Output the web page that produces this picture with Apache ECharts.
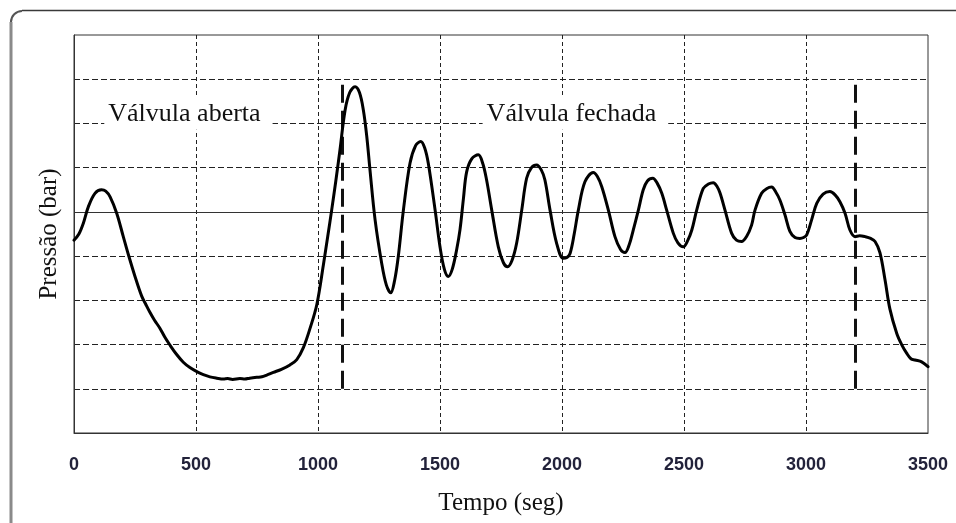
<!DOCTYPE html>
<html>
<head>
<meta charset="utf-8">
<script src="https://cdn.jsdelivr.net/npm/echarts@6.0.0/dist/echarts.min.js"></script>
<style>
html,body{margin:0;padding:0;background:#fff;}
#chart{width:956px;height:523px;}
</style>
</head>
<body>
<div id="chart"></div>
<script>
// ---- data ----
const time = [0,20,38,59,86,113,130,148,175,202,223,250,277,295,311,330,352,372,393,420,448,475,509,530,557,585,612,630,650,680,700,720,749,770,790,817,850,885,913,940,967,995,1022,1040,1056,1073,1090,1111,1130,1152,1170,1186,1200,1213,1234,1261,1280,1298,1314,1329,1350,1377,1400,1421,1437,1452,1480,1500,1518,1534,1550,1568,1582,1596,1609,1630,1657,1675,1691,1712,1739,1760,1777,1795,1814,1835,1855,1875,1896,1915,1930,1951,1978,2005,2020,2033,2050,2067,2094,2128,2145,2163,2190,2217,2240,2258,2275,2292,2313,2333,2350,2372,2390,2409,2429,2456,2475,2497,2515,2532,2552,2579,2600,2620,2635,2648,2668,2695,2715,2736,2757,2777,2791,2818,2840,2859,2876,2893,2914,2934,2955,2975,2990,3003,3023,3044,3070,3098,3120,3139,3160,3180,3201,3220,3242,3265,3283,3303,3324,3344,3372,3392,3413,3430,3447,3474,3500];
const pressure = [4.36,4.5,4.74,5.12,5.42,5.50,5.47,5.34,4.97,4.44,4.03,3.54,3.10,2.90,2.73,2.55,2.37,2.17,1.99,1.78,1.60,1.48,1.37,1.32,1.27,1.24,1.22,1.23,1.21,1.23,1.22,1.24,1.26,1.27,1.31,1.37,1.44,1.54,1.66,1.93,2.36,2.90,3.80,4.45,5.04,5.7,6.4,7.3,7.7,7.83,7.7,7.30,6.7,5.95,4.82,3.84,3.35,3.17,3.45,3.99,5.04,6.1,6.5,6.59,6.45,6.1,5.04,4.21,3.7,3.54,3.7,4.14,4.6,5.3,5.9,6.2,6.29,6.1,5.72,5.04,4.21,3.85,3.76,3.9,4.29,5.04,5.76,6.0,6.06,5.95,5.72,5.04,4.29,3.95,3.97,4.06,4.5,5.04,5.68,5.89,5.8,5.57,5.04,4.44,4.15,4.08,4.25,4.59,5.04,5.5,5.7,5.76,5.65,5.42,5.04,4.52,4.3,4.21,4.35,4.59,5.04,5.53,5.63,5.66,5.58,5.42,5.04,4.52,4.36,4.33,4.45,4.70,5.04,5.42,5.53,5.56,5.45,5.27,4.93,4.56,4.42,4.40,4.42,4.48,4.82,5.19,5.40,5.46,5.38,5.23,4.97,4.59,4.44,4.46,4.44,4.40,4.33,4.08,3.46,2.80,2.25,2.0,1.80,1.68,1.65,1.61,1.50];

const xTicks = [0,500,1000,1500,2000,2500,3000,3500];
const valveTimes = [1100, 3200];
const valveSpan = [1, 8];
const referenceLevel = 5;
const annotationLabels = ['Válvula aberta', 'Válvula fechada'];
const annotationTimes = [469, 2055];
const annotationLevels = [7.22, 7.22];

const xName = 'Tempo (seg)';
const yName = 'Pressão (bar)';

// ---- chart ----
const chart = echarts.init(document.getElementById('chart'), null, {renderer:'canvas'});
const serif = '"Liberation Serif", "DejaVu Serif", serif';
const sans = '"Liberation Sans", Arial, sans-serif';

const option = {
  animation: false,
  backgroundColor: '#fff',
  grid: {left: 74, right: 28, top: 35, bottom: 90, show: true, borderColor: '#333', borderWidth: 1, backgroundColor: 'transparent'},
  graphic: [
    {type: 'polyline', shape: {points: [[11, 523], [11, 22]]}, style: {fill: null, stroke: '#8a8a8a', lineWidth: 3}, z: 10},
    {type: 'arc', shape: {cx: 22, cy: 22, r: 11, startAngle: Math.PI, endAngle: Math.PI * 1.5}, style: {fill: null, stroke: '#555', lineWidth: 2}, z: 10},
    {type: 'line', shape: {x1: 22, y1: 10.5, x2: 956, y2: 10.5}, style: {stroke: '#3a3a3a', lineWidth: 1.5}, z: 10}
  ],
  xAxis: {
    type: 'value', min: xTicks[0], max: xTicks[xTicks.length-1], interval: 500,
    name: xName, nameLocation: 'middle', nameGap: 58,
    nameTextStyle: {fontFamily: serif, fontSize: 25, color: '#111'},
    axisLine: {show: true, lineStyle: {color: '#333', width: 1}},
    axisTick: {show: false},
    axisLabel: {margin: 23, fontFamily: sans, fontSize: 18, fontWeight: 'bold', color: '#22223a', formatter: v => String(v)},
    splitLine: {show: true, showMinLine: false, showMaxLine: false, lineStyle: {color: '#222', width: 1, type: [4, 3]}}
  },
  yAxis: {
    type: 'value', min: 0, max: 9, interval: 1,
    name: yName, nameLocation: 'middle', nameGap: 12,
    nameTextStyle: {fontFamily: serif, fontSize: 25, color: '#111'},
    axisLine: {show: true, lineStyle: {color: '#333', width: 1}},
    axisTick: {show: false},
    axisLabel: {show: false},
    splitLine: {show: true, showMinLine: false, showMaxLine: false, lineStyle: {color: '#222', width: 1, type: [6, 3]}}
  },
  series: [
    {
      type: 'line',
      data: time.map((t, i) => [t, pressure[i]]),
      showSymbol: false,
      smooth: 0.35,
      lineStyle: {color: '#000', width: 3, join: 'round', cap: 'round'},
      z: 5,
      markLine: {
        silent: true,
        symbol: 'none',
        label: {show: false},
        data: [
          {yAxis: referenceLevel, lineStyle: {color: '#333', width: 1, type: 'solid'}},
          ...valveTimes.map(t => [
            {coord: [t, valveSpan[0]], lineStyle: {color: '#111', width: 3, type: [18, 8]}},
            {coord: [t, valveSpan[1]]}
          ])
        ]
      }
    },
    {
      type: 'scatter',
      symbolSize: 0,
      z: 4,
      itemStyle: {opacity: 1},
      data: annotationTimes.map((t, i) => ({value: [t, annotationLevels[i]], name: annotationLabels[i]})),
      label: {
        show: true, position: 'inside', formatter: p => p.name,
        fontFamily: serif, fontSize: 26, color: '#111',
        backgroundColor: '#fff', padding: [3, 12, 3, 4]
      }
    }
  ]
};
chart.setOption(option);
</script>
</body>
</html>
